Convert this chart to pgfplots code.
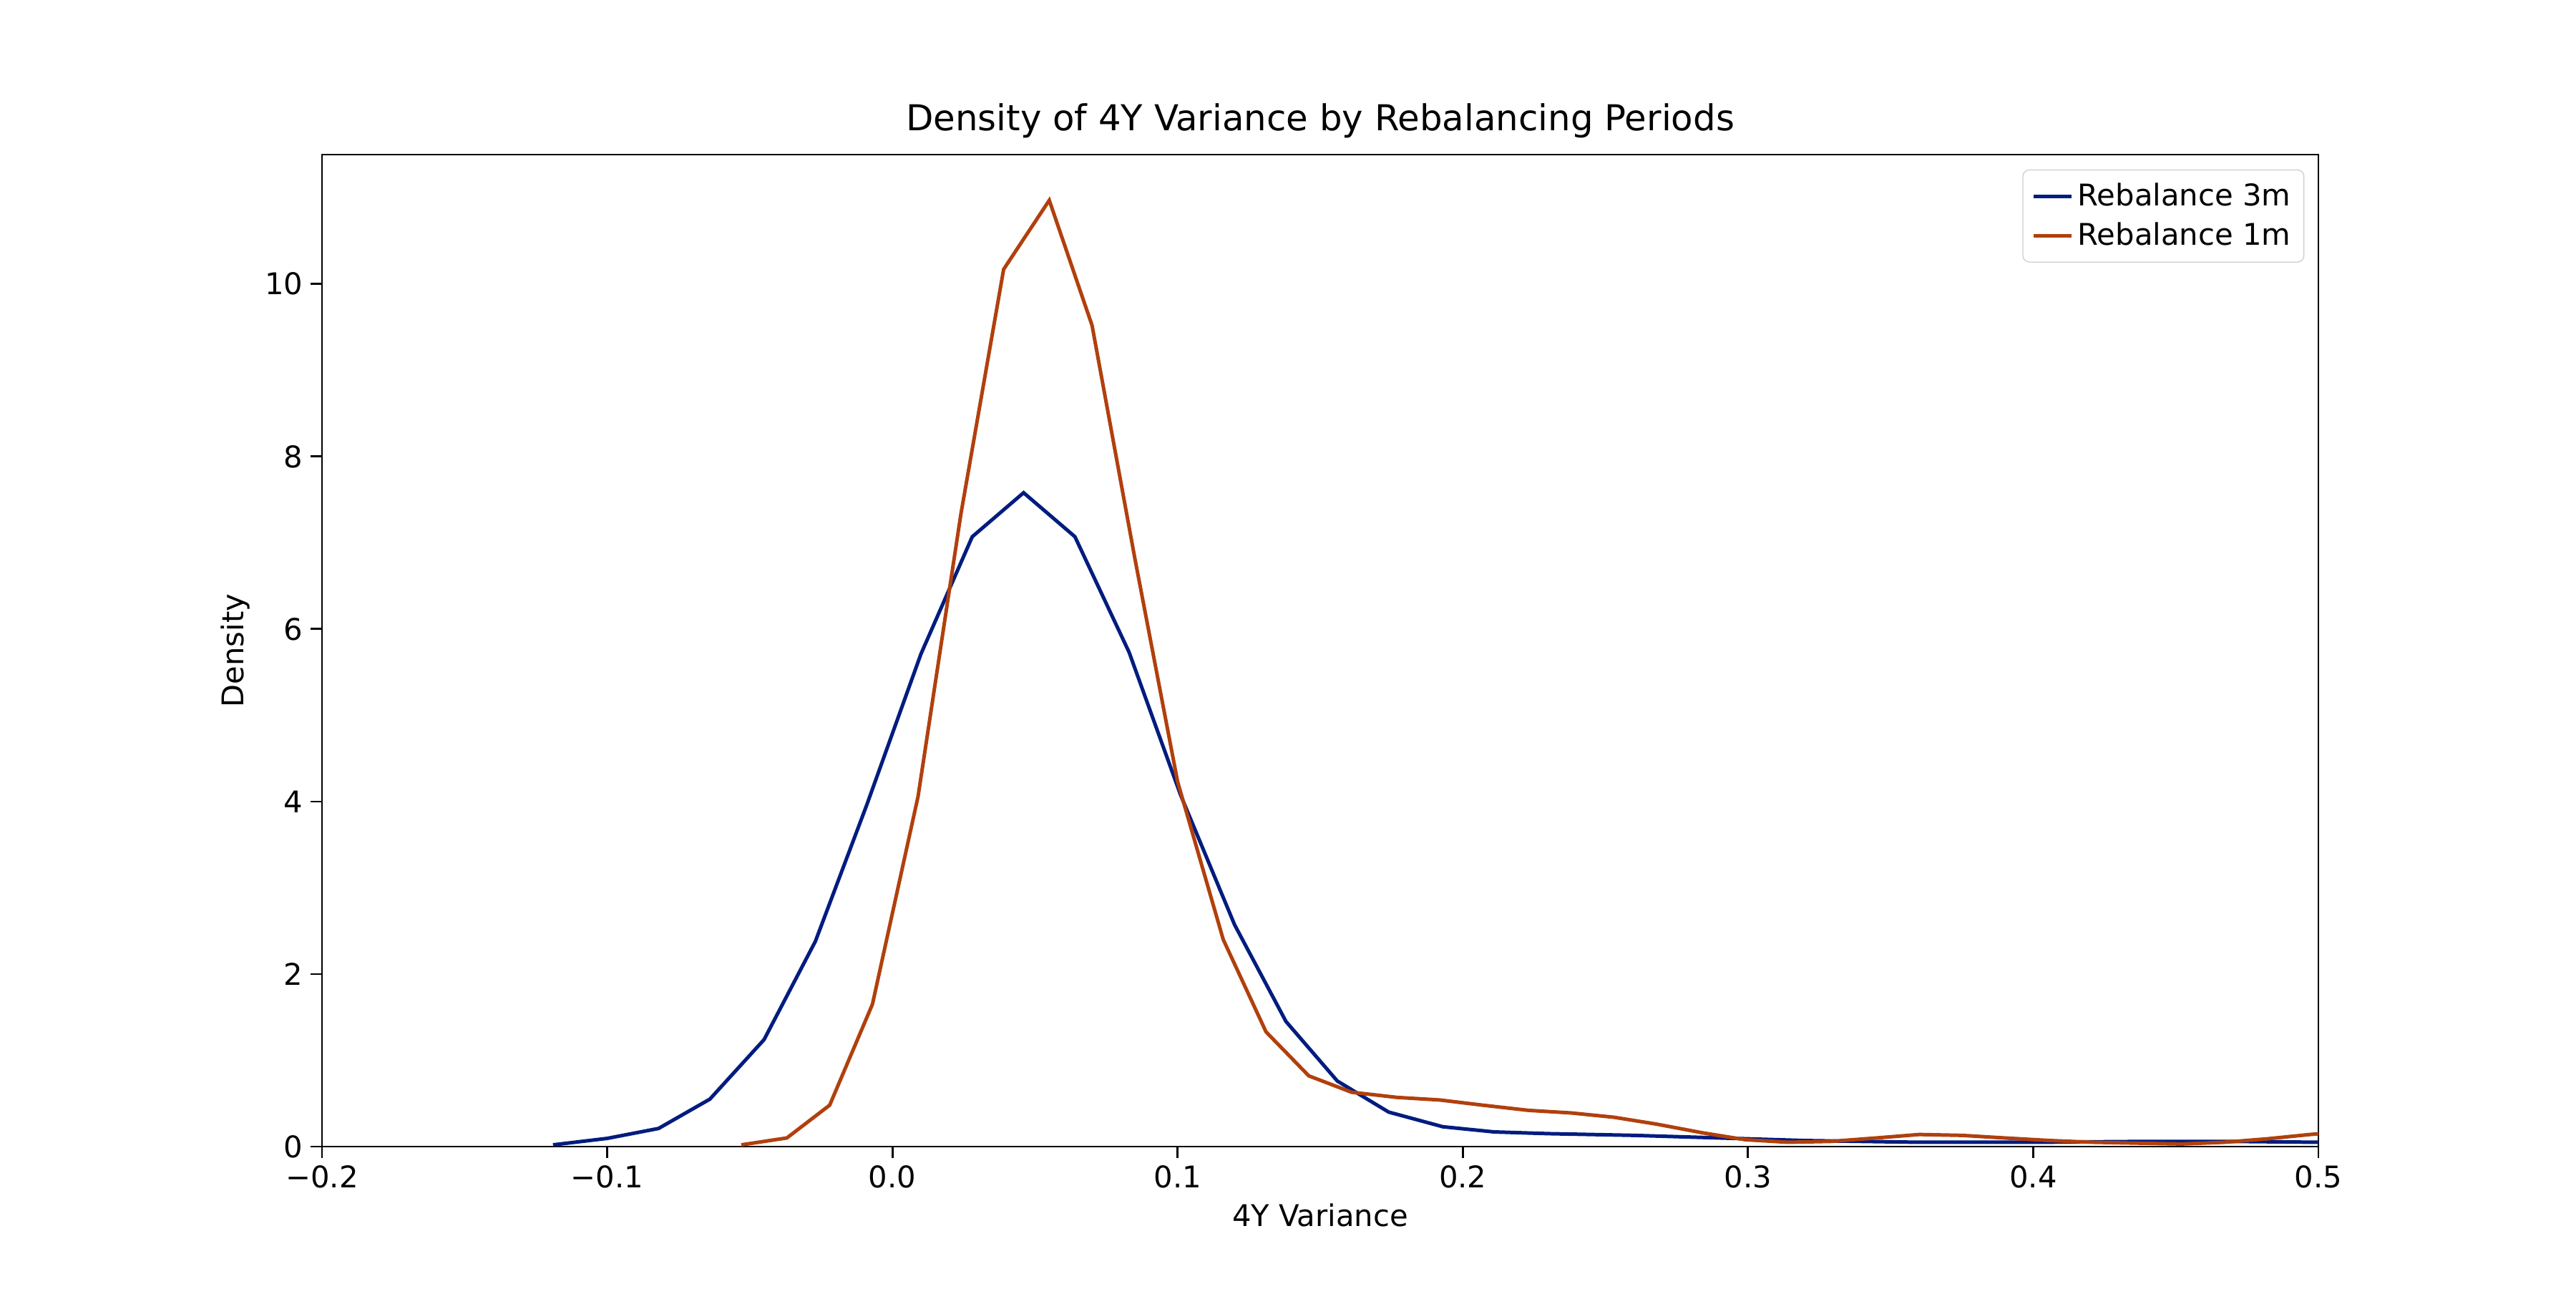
\documentclass[border=0pt]{standalone}
\usepackage{pgfplots}
\pgfplotsset{compat=1.18}
\usepackage{fontspec}
\setmainfont{DejaVu Sans}
\definecolor{cblue}{HTML}{001C7F}
\definecolor{corange}{HTML}{B1400D}
\begin{document}
\begin{tikzpicture}
\begin{axis}[
  scale only axis, width=12.4in, height=6.16in,
  xmin=-0.2, xmax=0.5, ymin=0, ymax=11.5,
  xtick={-0.2,-0.1,0,0.1,0.2,0.3,0.4,0.5},
  xticklabels={−0.2,−0.1,0.0,0.1,0.2,0.3,0.4,0.5},
  ytick={0,2,4,6,8,10},
  /pgf/number format/assume math mode=true,
  tick align=outside, tick style={black, line width=0.9pt}, major tick length=5pt,
  axis line style={line width=0.9pt},
  xtick pos=bottom, ytick pos=left,
  ticklabel style={font=\fontsize{13.4}{16}\selectfont},
  title={Density of 4Y Variance by Rebalancing Periods},
  title style={font=\fontsize{16}{19}\selectfont, yshift=-2pt},
  xlabel={4Y Variance}, ylabel={Density},
  label style={font=\fontsize{13.4}{16}\selectfont},
  legend style={at={(0.993,0.985)}, anchor=north east, font=\fontsize{13.4}{16}\selectfont, draw=gray!40, rounded corners=3pt, row sep=2pt, inner sep=4pt},
  legend cell align=left,
  every axis plot/.append style={line width=1.6pt},
]
\addplot[cblue] coordinates {
(-0.119,0.02) (-0.100,0.095) (-0.082,0.21) (-0.064,0.55) (-0.045,1.24) (-0.027,2.38)
(-0.009,3.96) (0.010,5.71) (0.028,7.07) (0.046,7.58) (0.064,7.07) (0.083,5.73)
(0.101,4.08) (0.120,2.57) (0.138,1.45) (0.156,0.76) (0.174,0.40) (0.193,0.23)
(0.211,0.17) (0.230,0.15) (0.26,0.13) (0.29,0.10) (0.32,0.07) (0.36,0.05) (0.40,0.05) (0.44,0.06) (0.47,0.06) (0.50,0.05)};
\addlegendentry{Rebalance 3m}
\addplot[corange] coordinates {
(-0.053,0.02) (-0.037,0.1) (-0.022,0.48) (-0.007,1.65) (0.009,4.06) (0.024,7.33)
(0.039,10.17) (0.055,10.97) (0.070,9.52) (0.085,6.82) (0.100,4.23) (0.116,2.4)
(0.131,1.33) (0.146,0.82) (0.161,0.63) (0.177,0.57) (0.192,0.54) (0.207,0.48)
(0.223,0.42) (0.238,0.39) (0.253,0.34) (0.268,0.26) (0.284,0.16) (0.299,0.08)
(0.314,0.05) (0.329,0.06) (0.345,0.1) (0.36,0.14) (0.375,0.13) (0.39,0.1)
(0.406,0.07) (0.421,0.05) (0.436,0.04) (0.452,0.03) (0.467,0.05) (0.482,0.09) (0.497,0.14) (0.512,0.18)};
\addlegendentry{Rebalance 1m}
\end{axis}
\useasboundingbox ([xshift=-2in,yshift=-0.88in]current axis.south west) rectangle ([xshift=1.6in,yshift=0.96in]current axis.north east);
\end{tikzpicture}
\end{document}
